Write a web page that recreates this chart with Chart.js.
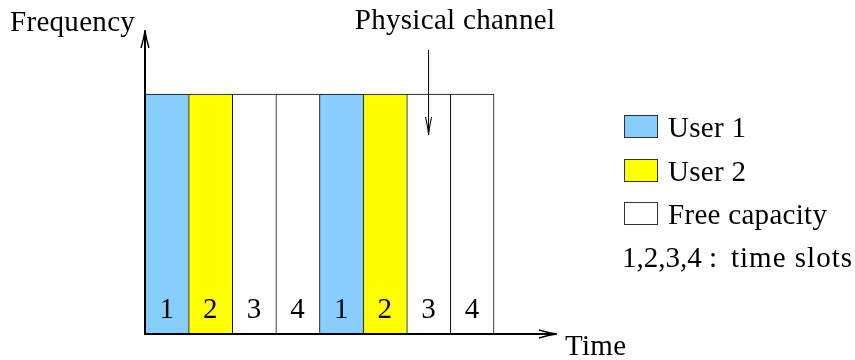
<!DOCTYPE html>
<html>
<head>
<meta charset="utf-8">
<style>
html,body{margin:0;padding:0;background:#fff;}
canvas{display:block;}
#pre{position:absolute;left:-9999px;top:0;font:29px 'Liberation Serif';}
</style>
<script src="https://cdn.jsdelivr.net/npm/chart.js@4/dist/chart.umd.min.js"></script>
</head>
<body>
<div id="pre">Frequency Physical channel 1234</div>
<canvas id="c" width="855" height="360"></canvas>
<script>
// ---- data ----
const slotLabels = ["1", "2", "3", "4", "1", "2", "3", "4"];
const slotUsers = ["User 1", "User 2", "Free capacity", "Free capacity", "User 1", "User 2", "Free capacity", "Free capacity"];
const slotHeights = [1, 1, 1, 1, 1, 1, 1, 1];
const legendLabels = ["User 1", "User 2", "Free capacity"];
const legendColors = ["#87CEFF", "#FFFF00", "#FFFFFF"];
const noteParts = ["1,2,3,4 :", "time slots"];
const yAxisTitle = "Frequency";
const xAxisTitle = "Time";
const annotationText = "Physical channel";
const annotationSlot = 6; // slot the arrow points into (0-based)
const xMax = 9.444;
const yMax = 1.2667;

const FONT = "29px 'Liberation Serif'";
const colorOf = u => legendColors[legendLabels.indexOf(u)];

const points = slotHeights.map((h, i) => ({x: i + 0.5, y: h}));

function arrowHead(ctx, tx, ty, dx, dy, len, hw) {
  const px = -dy, py = dx;
  const bx = tx - dx * len, by = ty - dy * len;
  ctx.beginPath();
  ctx.moveTo(bx + px * hw, by + py * hw);
  ctx.quadraticCurveTo(tx - dx * len * 0.35 + px * hw * 0.15, ty - dy * len * 0.35 + py * hw * 0.15, tx, ty);
  ctx.quadraticCurveTo(tx - dx * len * 0.35 - px * hw * 0.15, ty - dy * len * 0.35 - py * hw * 0.15, bx - px * hw, by - py * hw);
  ctx.stroke();
}

const decor = {
  id: 'decor',
  afterDatasetsDraw(chart) {
    const ctx = chart.ctx;
    const xs = chart.scales.x, ys = chart.scales.y;
    const x0 = xs.getPixelForValue(0), y0 = ys.getPixelForValue(0);
    const xEnd = xs.getPixelForValue(xMax), yEnd = ys.getPixelForValue(yMax);
    ctx.save();
    ctx.strokeStyle = '#000';
    ctx.lineCap = 'butt';
    ctx.lineWidth = 2;
    ctx.beginPath();
    ctx.moveTo(x0, y0 + 1); ctx.lineTo(x0, yEnd + 1);
    ctx.moveTo(x0 - 1, y0); ctx.lineTo(xEnd - 1, y0);
    ctx.stroke();
    ctx.lineWidth = 1.4;
    arrowHead(ctx, x0, yEnd, 0, -1, 18, 4);
    arrowHead(ctx, xEnd, y0, 1, 0, 18, 4);

    ctx.fillStyle = '#000';
    ctx.font = FONT;
    const hasLS = 'letterSpacing' in ctx;
    if (hasLS) ctx.letterSpacing = '0.3px';
    ctx.textAlign = 'center';
    ctx.textBaseline = 'alphabetic';
    slotLabels.forEach((l, i) => {
      ctx.fillText(l, xs.getPixelForValue(i + 0.5), y0 - 16);
    });

    ctx.textAlign = 'left';
    ctx.fillText(yAxisTitle, 10, 31);
    ctx.fillText(xAxisTitle, 565, 355);

    const ax = xs.getPixelForValue(annotationSlot + 0.5);
    ctx.textAlign = 'center';
    ctx.fillText(annotationText, 455, 29);
    ctx.lineWidth = 1;
    ctx.beginPath();
    ctx.moveTo(ax, 50); ctx.lineTo(ax, 134);
    ctx.stroke();
    ctx.lineWidth = 1.1;
    arrowHead(ctx, ax, 135, 0, 1, 18, 3);

    ctx.textAlign = 'left';
    const lx = 624, bw = 33, bh = 22;
    const baselines = [137, 181, 224];
    legendLabels.forEach((lab, i) => {
      const by = baselines[i] - bh;
      ctx.fillStyle = legendColors[i];
      ctx.fillRect(lx, by, bw, bh);
      ctx.strokeStyle = '#333';
      ctx.lineWidth = 1;
      ctx.strokeRect(lx + 0.5, by + 0.5, bw, bh);
      ctx.fillStyle = '#000';
      ctx.fillText(lab, 668, baselines[i]);
    });
    if (hasLS) ctx.letterSpacing = '0px';
    ctx.fillText(noteParts[0], 622, 267);
    if (hasLS) ctx.letterSpacing = '1px';
    ctx.fillText(noteParts[1], 731, 267);
    ctx.restore();
  }
};

function build() {
  new Chart(document.getElementById('c'), {
    type: 'bar',
    data: {
      datasets: [{
        data: points,
        backgroundColor: slotUsers.map(colorOf),
        borderColor: '#000',
        borderWidth: ctx => ({top: 1, left: 1, bottom: 0, right: ctx.dataIndex === slotHeights.length - 1 ? 1 : 0}),
        borderSkipped: false,
        barPercentage: 1,
        categoryPercentage: 1
      }]
    },
    plugins: [decor],
    options: {
      responsive: false,
      animation: false,
      devicePixelRatio: 1,
      layout: {padding: {left: 145, right: 298, top: 30, bottom: 26}},
      plugins: {legend: {display: false}, tooltip: {enabled: false}},
      scales: {
        x: {type: 'linear', min: 0, max: xMax, offset: false, display: false},
        y: {min: 0, max: yMax, display: false}
      }
    }
  });
}
if (document.fonts && document.fonts.load) {
  document.fonts.load(FONT).then(build, build);
} else {
  build();
}
</script>
</body>
</html>
